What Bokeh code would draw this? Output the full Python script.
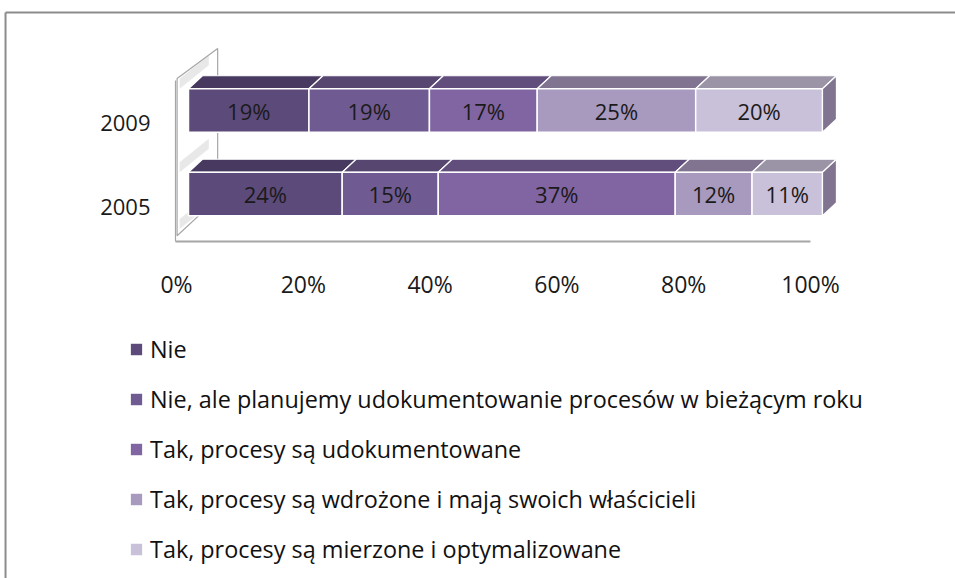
from bokeh.plotting import figure
from bokeh.models import Range1d, ColumnDataSource, Legend, LegendItem
from bokeh.core.properties import value
from bokeh.embed import file_html
from bokeh.resources import INLINE

# ---- data ----
years = ["2009", "2005"]
series = [
    "Nie",
    "Nie, ale planujemy udokumentowanie procesów w bieżącym roku",
    "Tak, procesy są udokumentowane",
    "Tak, procesy są wdrożone i mają swoich właścicieli",
    "Tak, procesy są mierzone i optymalizowane",
]
values_2009 = [19, 19, 17, 25, 20]
values_2005 = [24, 15, 37, 12, 11]
tick_values = [0, 20, 40, 60, 80, 100]
tick_labels = ["0%", "20%", "40%", "60%", "80%", "100%"]

front_colors = ["#5C4A7B", "#705A92", "#8165A3", "#A899BE", "#C9C0D9"]
top_colors = ["#47395F", "#574670", "#624E7D", "#807491", "#9B93A6"]
side_color = "#807490"

FONT = "Open Sans"
FS = "22px"
W, H = 955, 578
p = figure(width=W, height=H, output_backend="svg", toolbar_location=None,
           x_range=Range1d(-29.653, 120.978), y_range=Range1d(-4.6048, 2.3174),
           min_border=0)
p.axis.visible = False
p.grid.visible = False
p.outline_line_color = None

# chart-area border (top/left visible like the reference)
p.segment(x0=[-28.86, -28.86], y0=[2.1737, 2.1737], x1=[121.0, -28.86], y1=[2.1737, -4.7],
          line_color="#8C8C8C", line_width=2)

# 3D geometry constants (style)
half_h = 0.2605
dx, dy = 2.2, 0.1557

# wall + floor
wall_x = [-1.8, -1.8, 4.6, 4.6]
wall_y = [-0.50, 1.383, 1.743, -0.05]
p.patch(wall_x, wall_y, fill_color="white", line_color="#A6A6A6", line_width=1.2)
# soft shadows on the wall
for yy in [1.0 + half_h, 0.0 + half_h, -0.42]:
    p.patch([-1.4, -1.4, 3.2, 3.2], [yy, yy + 0.12, yy + 0.40, yy + 0.28],
            fill_color="#BDBDBD", fill_alpha=0.35, line_color=None)
p.segment(x0=[-2.05], y0=[-0.569], x1=[-2.05], y1=[1.36], line_color="#A6A6A6", line_width=1.2)
p.segment(x0=[-2.05], y0=[-0.569], x1=[98.1], y1=[-0.569], line_color="#A6A6A6", line_width=2)

rows = {"2009": 1.0, "2005": 0.0}
data = {"2009": values_2009, "2005": values_2005}

renderers = []
for si in range(len(series)):
    lefts, rights, ys = [], [], []
    for yr in years:
        vals = data[yr]
        tot = float(sum(vals))
        left = sum(vals[:si]) / tot * 100
        right = sum(vals[:si + 1]) / tot * 100
        lefts.append(left); rights.append(right); ys.append(rows[yr])
    # top faces
    xs_top = [[l, r, r + dx, l + dx] for l, r in zip(lefts, rights)]
    ys_top = [[y + half_h, y + half_h, y + half_h + dy, y + half_h + dy] for y in ys]
    p.patches(xs_top, ys_top, fill_color=top_colors[si], line_color="white", line_width=1.2)
    src = ColumnDataSource(dict(y=ys, left=lefts, right=rights))
    r = p.hbar(y="y", left="left", right="right", height=2 * half_h, source=src,
               fill_color=front_colors[si], line_color="white", line_width=1.5)
    renderers.append(r)
    if si == len(series) - 1:
        xs_side = [[rr, rr + dx, rr + dx, rr] for rr in rights]
        ys_side = [[y - half_h, y - half_h + dy, y + half_h + dy, y + half_h] for y in ys]
        p.patches(xs_side, ys_side, fill_color=side_color, line_color="white", line_width=1.2)
    # labels
    lab_x = [(l + r) / 2 for l, r in zip(lefts, rights)]
    lab_t = [f"{data[yr][si]}%" for yr in years]
    p.text(x=lab_x, y=ys, text=lab_t, text_align="center", text_baseline="middle",
           text_font=value(FONT), text_font_size=FS, text_color="#1A1A1A")

# category labels
p.text(x=[-6.0, -6.0], y=[rows[y] - 0.15 for y in years], text=years,
       text_align="right", text_baseline="middle",
       text_font=value(FONT), text_font_size=FS, text_color="#1A1A1A")

# tick labels along the floor
p.text(x=tick_values, y=[-1.075] * len(tick_values), text=tick_labels, x_offset=-12,
       text_align="center", text_baseline="middle",
       text_font=value(FONT), text_font_size="23px", text_color="#1A1A1A")

legend = Legend(items=[LegendItem(label=s, renderers=[r]) for s, r in zip(series, renderers)],
                location=(128, 13), orientation="vertical",
                glyph_width=16, glyph_height=16, label_height=24, spacing=18,
                padding=0, margin=0, label_standoff=6,
                label_text_font=FONT, label_text_font_size="23.4px", label_text_color="#111111",
                border_line_color=None, background_fill_alpha=0)
p.add_layout(legend)

open("out.html", "w").write(file_html(p, INLINE))
